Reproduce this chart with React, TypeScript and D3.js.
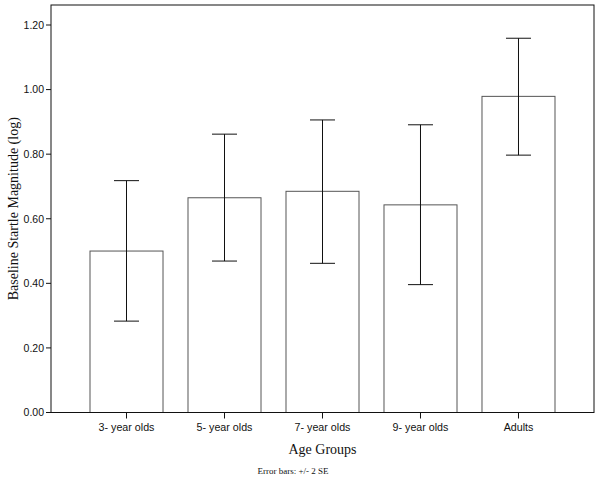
import React from "react";
import * as d3 from "d3";

const categories = ["3- year olds", "5- year olds", "7- year olds", "9- year olds", "Adults"];
const means = [0.5, 0.665, 0.685, 0.643, 0.979];
const lower = [0.283, 0.469, 0.462, 0.396, 0.797];
const upper = [0.718, 0.862, 0.906, 0.891, 1.159];
const yTicks = [0, 0.2, 0.4, 0.6, 0.8, 1.0, 1.2];

const W = 600;
const H = 483;
const left = 51;
const right = 594;
const top = 5;
const bottom = 412.5;

export default function App() {
  const x = d3
    .scaleBand<string>()
    .domain(categories)
    .range([left, right])
    .paddingInner(0.255)
    .paddingOuter(0.398);
  const y = d3.scaleLinear().domain([0, 1.2]).range([bottom, 25]);
  const bw = x.bandwidth();
  const capW = 25;
  const tickFont = "Arial, 'Liberation Sans', sans-serif";
  const serif = "'Times New Roman', 'Liberation Serif', serif";

  return (
    <svg
      width={W}
      height={H}
      style={{ position: "absolute", left: 0, top: 0, background: "#fff" }}
    >
      <rect x={0} y={0} width={W} height={H} fill="#fff" />
      {categories.map((c, i) => {
        const cx = (x(c) as number) + bw / 2;
        return (
          <g key={c}>
            <rect
              x={x(c)}
              y={y(means[i])}
              width={bw}
              height={bottom - y(means[i])}
              fill="#fff"
              stroke="#555"
              strokeWidth={1}
            />
            <line x1={cx} x2={cx} y1={y(upper[i])} y2={y(lower[i])} stroke="#111" strokeWidth={1} />
            <line x1={cx - capW / 2} x2={cx + capW / 2} y1={y(upper[i])} y2={y(upper[i])} stroke="#111" strokeWidth={1} />
            <line x1={cx - capW / 2} x2={cx + capW / 2} y1={y(lower[i])} y2={y(lower[i])} stroke="#111" strokeWidth={1} />
            <line x1={cx} x2={cx} y1={bottom} y2={bottom + 6} stroke="#111" strokeWidth={1} />
            <text
              x={cx}
              y={431}
              textAnchor="middle"
              fontFamily={tickFont}
              fontSize={10.7}
              fill="#111"
            >
              {c}
            </text>
          </g>
        );
      })}
      <rect x={left} y={top} width={right - left} height={bottom - top} fill="none" stroke="#111" strokeWidth={1} />
      {yTicks.map((t) => (
        <g key={t}>
          <line x1={left - 5} x2={left} y1={y(t)} y2={y(t)} stroke="#111" strokeWidth={1} />
          <text
            x={44}
            y={y(t) + 3.8}
            textAnchor="end"
            fontFamily={tickFont}
            fontSize={10.5}
            fill="#111"
          >
            {t.toFixed(2)}
          </text>
        </g>
      ))}
      <text
        x={322.5}
        y={454}
        textAnchor="middle"
        fontFamily={serif}
        fontSize={14}
        fill="#111"
      >
        Age Groups
      </text>
      <text
        transform={`translate(18,${(top + bottom) / 2}) rotate(-90)`}
        textAnchor="middle"
        fontFamily={serif}
        fontSize={14}
        fill="#111"
      >
        Baseline Startle Magnitude (log)
      </text>
      <text
        x={293}
        y={474}
        textAnchor="middle"
        fontFamily={serif}
        fontSize={9}
        fill="#111"
      >
        Error bars: +/- 2 SE
      </text>
    </svg>
  );
}
